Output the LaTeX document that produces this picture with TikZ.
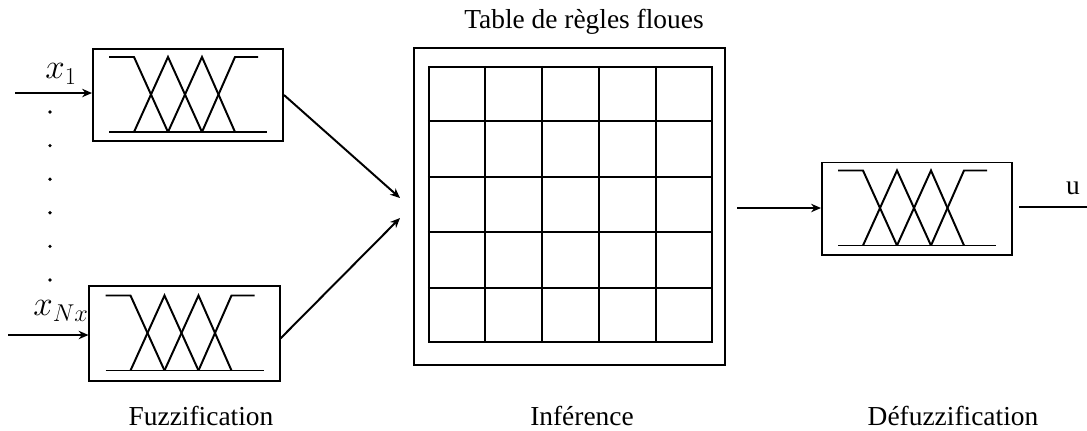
\documentclass[tikz,border=0pt]{standalone}
\usepackage{fontspec}
\setmainfont{Liberation Serif}
\usepackage{tikz}
\usetikzlibrary{arrows.meta, positioning, calc}

% triangular membership functions drawn inside a box node
\newcommand{\mfset}[1]{%
  \begin{scope}[shift={(#1.center)}]
    \draw (-79,37) -- (79,37);
    \draw (-79,-38) -- (-54,-38) -- (-20,37);
    \draw (-54,37) -- (-20,-38) -- (14,37);
    \draw (-20,37) -- (14,-38) -- (47,37);
    \draw (14,37) -- (47,-38) -- (70,-38);
  \end{scope}}

\begin{document}
\begin{tikzpicture}[
    x=0.025cm, y=-0.025cm,
    mfbox/.style={draw, minimum width=4.75cm, minimum height=2.3cm},
    lbl/.style={inner sep=1pt, font=\fontsize{19.5}{22}\selectfont},
    var/.style={inner sep=1pt, font=\fontsize{23}{26}\selectfont},
    >={Stealth[length=7pt,width=6pt]}, line width=1.4pt
  ]
    \useasboundingbox (0,0) rectangle (1087,430);

    \node[mfbox] (fuz1) at (188,95) {};
    \node[mfbox, minimum height=2.38cm] (fuzN) at (184.5,333.5) {};
    \node[mfbox] (defuz) at (917,208.5) {};
    \mfset{fuz1}
    \mfset{fuzN}
    \mfset{defuz}

    \node[draw, minimum width=7.775cm, minimum height=7.925cm] (rules) at (569.5,206.5) {};
    \node[draw, minimum width=7.075cm, minimum height=6.875cm] (grid) at (570.5,204.5) {};
    \foreach \i in {1,...,4} {
      \draw ($(grid.north west)!\i/5!(grid.north east)$) -- ($(grid.south west)!\i/5!(grid.south east)$);
      \draw ($(grid.north west)!\i/5!(grid.south west)$) -- ($(grid.north east)!\i/5!(grid.south east)$);
    }

    \node[var] (x1) at (61,74) {$x_1$};
    \node[var] (xN) at (61,311) {$x_{Nx}$};
    \node[lbl] (u) at (1073,188) {u};
    \node[lbl] (title) at (584,22) {Table de règles floues};
    \node[lbl] (lfuz) at (201,416) {Fuzzification};
    \node[lbl] (linf) at (582,416) {Inférence};
    \node[lbl] (ldef) at (953,416) {Défuzzification};

    \foreach \y in {112,145.6,...,281} \fill (50,\y) circle (1.3pt);

    \coordinate (in1) at (15,93);
    \coordinate (inN) at (8,335);
    \coordinate (j1) at (400,198);
    \coordinate (j2) at (400,218);
    \coordinate (m) at (737,208);
    \coordinate (o1) at (1019,207);
    \coordinate (o2) at (1087,207);

    \draw[->] (in1) -- (in1 -| fuz1.west);
    \draw[->] (inN) -- (inN -| fuzN.west);
    \draw[->] (fuz1.east) -- (j1);
    \draw[->] ([yshift=-3.5]fuzN.east) -- (j2);
    \draw[->] (m) -- (m -| defuz.west);
    \draw (o1) -- (o2);
  \end{tikzpicture}
\end{document}
